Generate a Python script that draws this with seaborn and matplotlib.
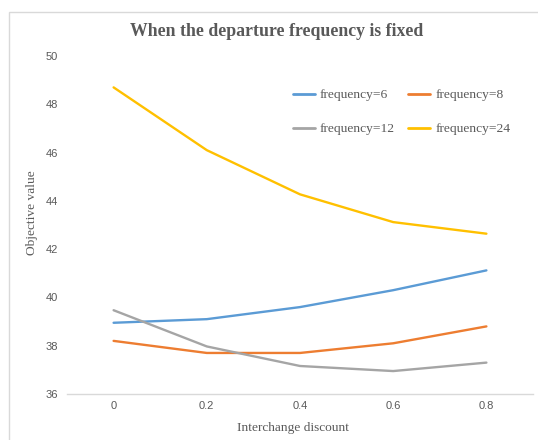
import matplotlib
matplotlib.use("Agg")
import matplotlib.pyplot as plt
import seaborn as sns
import pandas as pd
from matplotlib.patches import Rectangle

# Data
discounts = ["0", "0.2", "0.4", "0.6", "0.8"]
freq6 = [38.95, 39.10, 39.60, 40.30, 41.12]
freq8 = [38.20, 37.70, 37.70, 38.10, 38.80]
freq12 = [39.47, 37.97, 37.16, 36.95, 37.30]
freq24 = [48.70, 46.10, 44.27, 43.12, 42.64]
series_names = ["frequency=6", "frequency=8", "frequency=12", "frequency=24"]
colors = ["#5B9BD5", "#ED7D31", "#A5A5A5", "#FFC000"]

rows = []
for name, vals in zip(series_names, [freq6, freq8, freq12, freq24]):
    for i, v in enumerate(vals):
        rows.append({"pos": i, "value": v, "series": name})
df = pd.DataFrame(rows)

sns.set_theme(style="white")
plt.rcParams["font.family"] = ["Liberation Serif", "DejaVu Serif"]

W, H = 538, 440
fig = plt.figure(figsize=(W / 100, H / 100), dpi=100)
fig.patch.set_facecolor("white")

# chart frame
fig.patches.append(Rectangle((9 / W, -0.1), 1.2, 1 - 12 / H + 0.1,
                             transform=fig.transFigure, fill=False,
                             edgecolor="#D9D9D9", linewidth=1.0))

ax = fig.add_axes([67 / W, 1 - 394 / H, (533 - 67) / W, (394 - 56) / H])
sns.lineplot(data=df, x="pos", y="value", hue="series", palette=colors,
             hue_order=series_names, linewidth=1.7, ax=ax, legend=False)

ax.set_xlim(-0.5, 4.5)
ax.set_ylim(36, 50)
ax.set_xticks(range(len(discounts)))
ax.set_xticklabels(discounts)
ax.set_yticks(range(36, 51, 2))
for lab in ax.get_xticklabels() + ax.get_yticklabels():
    lab.set_fontfamily("Liberation Sans")
    lab.set_fontsize(8)
    lab.set_color("#595959")
ax.tick_params(axis="x", length=0, pad=5)
ax.tick_params(axis="y", length=0, pad=6.5)

for s in ["top", "right", "left"]:
    ax.spines[s].set_visible(False)
ax.spines["bottom"].set_color("#D9D9D9")
ax.spines["bottom"].set_linewidth(1.0)
ax.grid(False)

ax.set_xlabel("Interchange discount", fontsize=9.6, color="#595959")
ax.set_ylabel("Objective value", fontsize=9.6, color="#595959")
ax.xaxis.set_label_coords((293 - 67) / (533 - 67), -(428 - 394) / (394 - 56))
ax.yaxis.set_label_coords((32 - 67) / (533 - 67), (394 - 213) / (394 - 56))
ax.xaxis.label.set_verticalalignment("center")
ax.yaxis.label.set_verticalalignment("center")

fig.text(277 / W, 1 - 31 / H, "When the departure frequency is fixed",
         ha="center", va="center", fontsize=12.75, fontweight="bold",
         color="#595959")

# legend filled column by column -> rows read 6, 8 / 12, 24
order = [0, 2, 1, 3]
handles = [plt.Line2D([], [], color=colors[i], lw=2) for i in order]
labels = [series_names[i] for i in order]
ax.legend(handles, labels, loc="upper left", ncol=2, frameon=False,
          bbox_to_anchor=((293 - 67) / (533 - 67), 1 - (89 - 56) / (394 - 56)),
          borderaxespad=0, borderpad=0, fontsize=9.7, handlelength=1.63,
          handletextpad=0.37, columnspacing=1.0, labelspacing=1.6,
          labelcolor="#595959")

fig.savefig("out.png", dpi=100, facecolor="white")
